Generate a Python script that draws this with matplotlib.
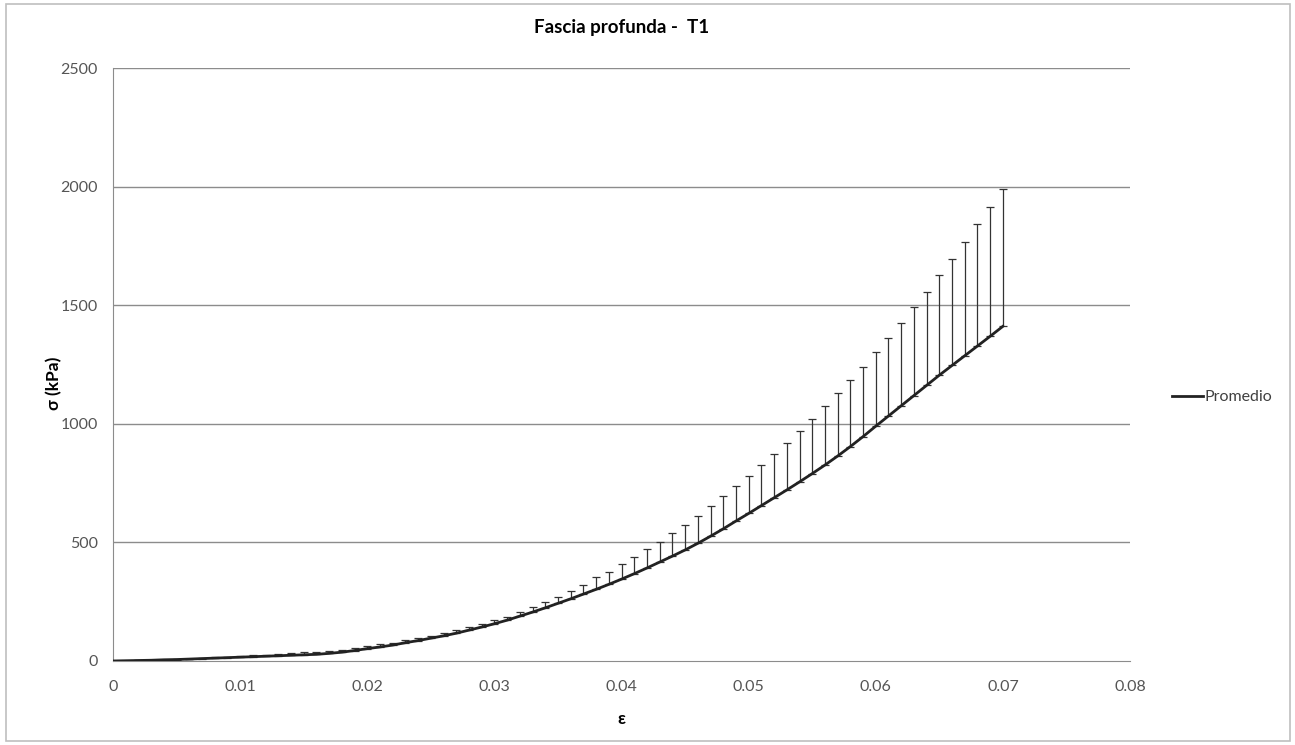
import numpy as np
import matplotlib
matplotlib.use("Agg")
import matplotlib.pyplot as plt
from matplotlib.lines import Line2D
from matplotlib.patches import Rectangle

plt.rcParams['font.family'] = ['Lato', 'DejaVu Sans']

strain = [i / 1000 for i in range(71)]
mean_kpa = [0, 1, 2, 3, 5, 6, 8, 10, 12, 14,
            16, 18, 20, 22, 24, 26, 28, 32, 37, 44,
            52, 59, 67, 77, 86, 96, 106, 117, 130, 143,
            157, 172, 189, 206, 224, 243, 262, 282, 302, 323,
            345, 368, 392, 417, 442, 468, 496, 526, 557, 590,
            622, 655, 688, 721, 755, 790, 826, 864, 904, 946,
            990, 1033, 1076, 1119, 1162, 1205, 1246, 1287, 1328, 1369,
            1411]
upper_kpa = [0, 1, 2, 4, 6, 8, 10, 12, 15, 18,
             21, 24, 27, 30, 33, 36, 39, 42, 48, 55,
             63, 70, 77, 88, 96, 105, 117, 131, 142, 156,
             173, 187, 206, 229, 248, 271, 296, 320, 352, 376,
             407, 439, 470, 500, 538, 573, 612, 653, 695, 737,
             779, 826, 872, 921, 970, 1022, 1074, 1130, 1184, 1240,
             1303, 1362, 1425, 1492, 1556, 1626, 1696, 1766, 1841, 1914,
             1988]

title = "Fascia profunda -  T1"
xlabel = "ε"
ylabel = "σ (kPa)"
series_name = "Promedio"
xticks = [0, 0.01, 0.02, 0.03, 0.04, 0.05, 0.06, 0.07, 0.08]
xticklabels = ["0", "0.01", "0.02", "0.03", "0.04", "0.05", "0.06", "0.07", "0.08"]
yticks = [0, 500, 1000, 1500, 2000, 2500]

mean_arr = np.array(mean_kpa, dtype=float)
err_up = np.array(upper_kpa, dtype=float) - mean_arr

fig = plt.figure(figsize=(12.95, 7.45), dpi=100)
fig.patch.set_facecolor('white')
fig.patches.append(Rectangle((0.005, 0.006), 0.991, 0.988, transform=fig.transFigure,
                             fill=False, edgecolor='#bfbfbf', linewidth=1.2))

ax = fig.add_axes([0.0873, 0.1128, 0.7853, 0.7959])
ax.set_xlim(0, 0.08)
ax.set_ylim(0, 2500)

for yv in yticks[1:]:
    ax.axhline(yv, color='#8c8c8c', linewidth=1.0, zorder=0)

ax.errorbar(strain, mean_arr, yerr=[np.zeros_like(err_up), err_up], fmt='none',
            ecolor='#333333', elinewidth=0.9, capsize=2.7, capthick=0.9, zorder=2)
ax.plot(strain, mean_arr, color='#222222', linewidth=2.0, zorder=3)

for s in ['top', 'right']:
    ax.spines[s].set_visible(False)
ax.spines['left'].set_color('#8c8c8c')
ax.spines['bottom'].set_color('#8c8c8c')
ax.tick_params(axis='both', length=0, labelsize=11.5, colors='#555555')
ax.set_xticks(xticks)
ax.set_xticklabels(xticklabels)
ax.set_yticks(yticks)
ax.tick_params(axis='x', pad=14)
ax.tick_params(axis='y', pad=11)

ax.set_title(title, fontsize=13.5, fontweight='bold', color='#000000', pad=25)
ax.set_xlabel(xlabel, fontsize=12.5, fontweight='bold', labelpad=12)
ax.set_ylabel(ylabel, fontsize=12.5, fontweight='bold')
ax.yaxis.set_label_coords(-0.050, 0.469)

handle = Line2D([0], [0], color='#222222', linewidth=2.0)
fig.legend([handle], [series_name], loc='center left',
           bbox_to_anchor=(1158 / 1295, 1 - 397 / 745), frameon=False,
           fontsize=11.5, handlelength=1.9, handletextpad=0.1, labelcolor='#404040')

fig.savefig("out.png", dpi=100, facecolor='white')
